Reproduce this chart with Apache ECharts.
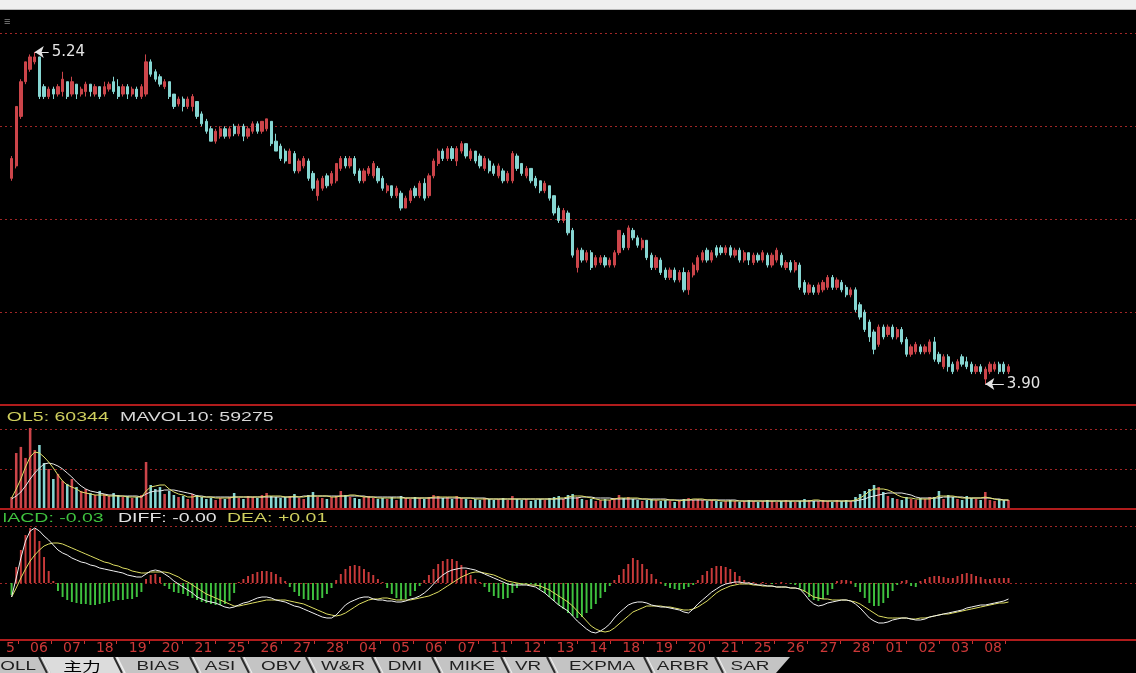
<!DOCTYPE html>
<html><head><meta charset="utf-8">
<script src="https://cdn.jsdelivr.net/npm/echarts@6/dist/echarts.min.js"></script>
<style>html,body{margin:0;padding:0;background:#000;overflow:hidden}#c{width:1136px;height:673px}</style>
</head><body><div id="c"></div>
<script>
// ---- tick labels ----
const dayLabels = ['5','06','07','18','19','20','21','25','26','27','28','04','05','06','07','11','12','13','14','18','19','20','21','25','26','27','28','01','02','03','08'];
const tabLabels = ['BOLL','主力','BIAS','ASI','OBV','W&R','DMI','MIKE','VR','EXPMA','ARBR','SAR'];
// ---- price bars [open, close, low, high] ----
const kline = [
[4.73,4.81,4.72,4.82],[4.78,5.02,4.77,5.02],[4.98,5.12,4.97,5.13],[5.12,5.20,5.11,5.20],[5.17,5.22,5.16,5.23],[5.20,5.22,5.19,5.24],
[5.22,5.06,5.05,5.22],[5.10,5.06,5.05,5.11],[5.06,5.09,5.05,5.10],[5.09,5.07,5.05,5.10],[5.07,5.10,5.06,5.11],[5.08,5.13,5.06,5.16],
[5.12,5.06,5.05,5.12],[5.07,5.12,5.06,5.14],[5.11,5.07,5.05,5.11],[5.07,5.09,5.06,5.10],[5.08,5.11,5.06,5.12],[5.11,5.08,5.06,5.11],
[5.07,5.10,5.06,5.11],[5.10,5.06,5.05,5.10],[5.07,5.10,5.06,5.12],[5.09,5.11,5.08,5.12],[5.12,5.08,5.07,5.14],[5.10,5.06,5.05,5.13],
[5.07,5.10,5.06,5.11],[5.10,5.07,5.05,5.11],[5.07,5.09,5.06,5.10],[5.09,5.06,5.05,5.10],[5.06,5.10,5.05,5.11],[5.07,5.20,5.06,5.23],
[5.20,5.15,5.14,5.21],[5.16,5.13,5.12,5.17],[5.14,5.11,5.10,5.15],[5.10,5.12,5.09,5.13],[5.12,5.06,5.05,5.12],[5.07,5.02,5.01,5.07],
[5.03,5.05,5.02,5.06],[5.05,5.02,5.00,5.06],[5.02,5.05,5.01,5.06],[5.02,5.06,5.00,5.07],[5.04,4.98,4.97,5.04],[4.99,4.95,4.94,5.00],
[4.96,4.92,4.91,4.97],[4.93,4.88,4.88,4.94],[4.88,4.92,4.87,4.93],[4.90,4.93,4.89,4.94],[4.93,4.90,4.89,4.94],[4.90,4.93,4.89,4.94],
[4.94,4.91,4.90,4.95],[4.91,4.94,4.90,4.95],[4.94,4.90,4.88,4.95],[4.90,4.93,4.89,4.94],[4.92,4.95,4.91,4.96],[4.95,4.92,4.91,4.96],
[4.92,4.96,4.91,4.96],[4.93,4.97,4.92,4.97],[4.96,4.87,4.86,4.96],[4.88,4.84,4.84,4.91],[4.86,4.81,4.80,4.87],[4.84,4.80,4.79,4.85],
[4.79,4.84,4.79,4.85],[4.83,4.76,4.75,4.84],[4.76,4.80,4.75,4.81],[4.78,4.81,4.77,4.82],[4.80,4.73,4.72,4.81],[4.75,4.69,4.68,4.76],
[4.66,4.72,4.64,4.73],[4.69,4.73,4.68,4.74],[4.74,4.70,4.69,4.75],[4.71,4.75,4.70,4.76],[4.72,4.79,4.71,4.79],[4.77,4.81,4.76,4.82],
[4.81,4.78,4.77,4.82],[4.78,4.81,4.77,4.82],[4.81,4.75,4.74,4.82],[4.76,4.72,4.71,4.77],[4.72,4.76,4.71,4.77],[4.75,4.77,4.74,4.78],
[4.74,4.79,4.73,4.80],[4.77,4.72,4.71,4.78],[4.73,4.69,4.68,4.74],[4.68,4.70,4.67,4.71],[4.70,4.66,4.65,4.70],[4.66,4.69,4.65,4.70],
[4.67,4.61,4.60,4.68],[4.61,4.65,4.61,4.66],[4.64,4.68,4.63,4.69],[4.69,4.66,4.65,4.70],[4.66,4.71,4.65,4.72],[4.71,4.65,4.64,4.73],
[4.66,4.74,4.65,4.75],[4.74,4.80,4.73,4.81],[4.79,4.84,4.78,4.85],[4.84,4.81,4.80,4.85],[4.81,4.85,4.80,4.86],[4.85,4.81,4.80,4.86],
[4.80,4.85,4.78,4.86],[4.84,4.87,4.83,4.88],[4.87,4.82,4.81,4.87],[4.81,4.84,4.80,4.85],[4.84,4.80,4.79,4.84],[4.82,4.78,4.77,4.83],
[4.77,4.81,4.76,4.82],[4.80,4.76,4.75,4.81],[4.78,4.75,4.74,4.79],[4.74,4.78,4.73,4.79],[4.76,4.72,4.71,4.77],[4.72,4.75,4.71,4.76],
[4.72,4.83,4.71,4.84],[4.82,4.77,4.76,4.83],[4.79,4.75,4.74,4.79],[4.74,4.77,4.73,4.78],[4.77,4.72,4.71,4.77],[4.73,4.70,4.69,4.74],
[4.72,4.68,4.67,4.72],[4.68,4.71,4.67,4.72],[4.70,4.65,4.64,4.70],[4.66,4.59,4.58,4.66],[4.61,4.56,4.55,4.62],[4.56,4.60,4.55,4.61],
[4.59,4.51,4.50,4.60],[4.52,4.42,4.41,4.53],[4.37,4.44,4.35,4.45],[4.44,4.40,4.39,4.45],[4.40,4.43,4.39,4.44],[4.43,4.37,4.36,4.44],
[4.38,4.41,4.37,4.42],[4.39,4.41,4.38,4.42],[4.41,4.38,4.37,4.42],[4.38,4.40,4.37,4.41],[4.38,4.43,4.37,4.44],[4.43,4.52,4.42,4.52],
[4.50,4.45,4.44,4.51],[4.45,4.53,4.44,4.54],[4.52,4.49,4.48,4.53],[4.49,4.46,4.45,4.50],[4.45,4.48,4.44,4.49],[4.48,4.41,4.40,4.48],
[4.42,4.37,4.36,4.43],[4.37,4.41,4.36,4.42],[4.40,4.35,4.34,4.41],[4.36,4.33,4.32,4.37],[4.33,4.36,4.32,4.37],[4.36,4.32,4.31,4.37],
[4.32,4.35,4.31,4.36],[4.35,4.28,4.27,4.37],[4.28,4.35,4.26,4.36],[4.34,4.38,4.33,4.39],[4.36,4.41,4.35,4.42],[4.40,4.43,4.39,4.44],
[4.44,4.40,4.39,4.45],[4.40,4.43,4.39,4.44],[4.45,4.42,4.41,4.46],[4.45,4.43,4.42,4.46],[4.43,4.45,4.42,4.46],[4.45,4.42,4.41,4.46],
[4.42,4.44,4.41,4.45],[4.44,4.40,4.39,4.45],[4.40,4.43,4.39,4.44],[4.43,4.40,4.38,4.43],[4.39,4.42,4.38,4.43],[4.42,4.40,4.39,4.43],
[4.40,4.43,4.39,4.44],[4.42,4.38,4.37,4.43],[4.38,4.42,4.37,4.43],[4.40,4.44,4.39,4.45],[4.42,4.38,4.37,4.43],[4.37,4.39,4.36,4.40],
[4.39,4.36,4.35,4.40],[4.36,4.39,4.35,4.40],[4.38,4.29,4.28,4.39],[4.31,4.27,4.26,4.32],[4.27,4.30,4.26,4.31],[4.29,4.27,4.26,4.30],
[4.27,4.30,4.26,4.31],[4.28,4.31,4.27,4.32],[4.29,4.33,4.28,4.34],[4.33,4.29,4.28,4.34],[4.29,4.32,4.28,4.33],[4.31,4.28,4.27,4.32],
[4.29,4.26,4.25,4.30],[4.26,4.28,4.25,4.29],[4.28,4.20,4.19,4.29],[4.22,4.17,4.16,4.23],[4.19,4.12,4.11,4.20],[4.15,4.09,4.07,4.16],
[4.11,4.04,4.02,4.12],[4.06,4.13,4.05,4.14],[4.13,4.09,4.08,4.14],[4.10,4.13,4.09,4.14],[4.13,4.09,4.08,4.14],[4.09,4.12,4.08,4.13],
[4.12,4.07,4.06,4.13],[4.08,4.02,4.01,4.09],[4.02,4.05,4.01,4.06],[4.03,4.06,4.02,4.07],[4.05,4.03,4.02,4.06],[4.03,4.05,4.02,4.06],
[4.03,4.07,4.02,4.08],[4.07,4.00,3.99,4.09],[4.02,3.99,3.98,4.03],[3.97,4.01,3.96,4.02],[4.01,3.97,3.95,4.02],[3.98,3.95,3.94,3.99],
[3.96,3.99,3.95,4.00],[4.01,3.98,3.97,4.02],[3.99,3.97,3.96,4.01],[3.98,3.95,3.94,3.99],[3.95,3.97,3.94,3.98],[3.97,3.95,3.94,3.98],
[3.92,3.96,3.90,3.97],[3.95,3.98,3.94,3.99],[3.96,3.98,3.95,3.99],[3.98,3.95,3.94,3.99],[3.98,3.95,3.94,3.99],[3.95,3.97,3.94,3.98]
];
// ---- volume (hundreds of lots) ----
const volume = [
806,3750,4160,3420,5430,3950,4290,3080,2680,2010, 2350,1880,1680,2010,1470,1210,1340,1070,940,1210,
1005,870,1070,940,806,872,737,806,938,3150, 1610,1340,1470,1005,1206,938,804,871,670,1005,
938,804,670,737, 603,737,670,804,1072,737,670,871,804,737,938,1072,871,804,737,804,
871,1005,737,670,938,1139,804,737,670,804, 871,1206,938,804,737,670,804,871,737,670,
737,670,804,603,871,737,670,804,737,670, 804,938,871,737,804,670,871,737,670,603,
670,603,737,670,603,670,737,603,871,670, 603,670,536,603,670,603,737,804,871,670,
938,1005,804,670,603,670,536,603,670,603, 737,938,737,804,670,603,536,603,670,603,
536,603,536,469,603,670,737,603,670,603, 536,603,536,469,536,603,536,469,536,603,
536,469,536,603,536,469,536,603,536,469, 536,670,603,536,536,603,536,469,603,536,
603,536,804,1005,1206,1340,1608,1474,1139,871, 737,670,603,804,670,603,737,670,804,804,
1206,670,938,804,670,603,871,737,670,603, 1139,603,536,670,603,603
];
const mavol5 = [
737,1340,2010,2814,3484,3819,3752,3484,3149,2747, 2278,1876,1608,1474,1340,1139,1072,1005,938,938,
938,871,871,871,871,804,804,804,804,1206, 1474,1541,1608,1608,1340,1139,1005,938,804,804,
871,804,804,804,737,737,737,737,804,804, 804,804,804,804,804,871,871,871,871,804,
804,871,804,804,871,871,871,871,871,804, 804,871,871,938,938,871,804,804,804,737,
737,737,737,737,737,737,737,737,737,737, 737,804,804,804,804,804,804,737,737,737,
670,670,670,670,670,670,670,670,670,670, 670,670,670,670,670,670,670,670,737,737,
804,871,871,871,804,737,670,603,603,603, 670,737,737,737,737,737,670,670,603,603,
603,603,603,603,536,603,603,670,670,670, 603,603,603,536,536,536,536,536,536,536,
536,536,536,536,536,536,536,536,536,536, 536,536,536,603,603,536,536,536,536,536,
536,536,603,737,938,1206,1340,1340,1340,1273, 1139,938,804,737,737,670,670,670,670,737,
871,871,871,871,804,737,737,737,737,737, 804,737,670,603,603,603.44
];
const mavol10 = [
670,871,1139,1541,2010,2412,2747,3015,3082,3015, 2881,2680,2412,2144,1809,1541,1340,1206,1139,1072,
1005,938,938,871,871,871,871,871,804,1005, 1139,1206,1206,1273,1273,1273,1206,1139,1072,1005,
871,871,804, 804,804,804,804,804,804,804,804,804,804,804,804,804,804,804,804,804,
804,804,804,871,871,871,871,871,871,871, 871,871,871,871,871,871,871,804,804,804,
804,804,804,804,804,737,737,737,737,737, 737,737,737,737,737,737,737,737,737,737,
737,737,737,670,670,670,670,670,670,670, 670,670,670,670,670,670,670,670,670,670,
737,737,737,804,804,804,737,737,737,737, 670,670,670,670,670,670,670,670,670,670,
670,670,603,603,603,603,603,603,603,603, 603,603,603,603,603,603,603,536,536,536,
536,536,536,536,536,536,536,536,536,536, 536,536,536,536,536,536,536,536,536,536,
536,536,536,603,670,804,871,938,1005,1072, 1072,1072,1072,1005,938,804,737,737,737,737,
737,804,804,804,804,804,737,737,737,737, 737,737,670,670,603,592.75
];
// ---- MACD ----
const macdHist = [
-.024,.032,.066,.096,.11,.108,.084,.052,.024,.004,
-.016,-.028,-.034,-.038,-.04,-.042,-.042,-.044,-.044,-.042,
-.04,-.038,-.036,-.034,-.034,-.032,-.032,-.028,-.018,
.008,.016,.018,.012,-.006,
-.012,-.018,-.02,-.022,-.026,-.03,-.034,-.038,-.04,-.042,-.044,-.044,-.042,-.036,-.02,
.002,.008,.014,.018,.022,.024,.024,.022,.018,.012,.004,
-.008,-.018,-.026,-.032,-.034,-.034,-.034,-.03,-.022,-.01,
.006,.018,.028,.034,.036,.034,.028,.022,.016,.008,.002,
-.01,-.022,-.03,-.034,-.032,-.026,-.016,-.006,
.006,.016,.028,.038,.044,.048,.048,.044,.036,.026,.016,.008,.002,
-.008,-.018,-.026,-.03,-.032,-.03,-.02,-.01,-.004,-.002,-.002,
-.006,-.012,-.02,-.028,-.036,-.044,-.052,-.06,-.066,-.07,-.068,-.06,-.052,-.042,-.03,-.018,-.006,
.006,.016,.028,.038,.05,.046,.038,.028,.018,.008,.002,
-.006,-.01,-.012,-.014,-.012,-.008,-.004,
.006,.016,.024,.03,.034,.034,.032,.028,.022,.014,.006,.002,
.002,0,.002,0,-.002,0,.002,0,-.002,-.004,
-.01,-.018,-.028,-.034,-.036,-.032,-.024,-.012,
.004,.006,.006,.004,
-.008,-.018,-.03,-.04,-.046,-.046,-.04,-.03,-.016,-.004,
.004,.006,-.006,-.008,
.004,.008,.012,.014,.014,.012,.01,.01,.014,.018,.02,.018,.014,.012,.008,.008,.01,.01,.01,.01
];
const diff = [
-.028,.01,.05,.084,.104,.11,.104,.094,.086,.076, .066,.06,.056,.05,.046,.042,.04,.036,.034,.03,
.028,.026,.024,.022,.02,.016,.014,.012,.012,.018, .024,.026,.024,.018,.012,.004,-.002,-.008,-.014,-.02,
-.028,-.032,-.036,-.038,-.04,-.044,-.048,-.05,-.048,-.044, -.04,-.038,-.034,-.03,-.028,-.028,-.03,-.034,-.036,-.038,
-.042,-.046,-.048,-.052,-.056,-.06,-.064,-.068,-.07,-.07, -.064,-.054,-.044,-.038,-.034,-.03,-.028,-.028,-.032,-.034,
-.034,-.036,-.036,-.038,-.038,-.036,-.032,-.03,-.026,-.02, -.012,-.002,.008,.016,.022,.026,.028,.03,.03,.028,
.026,.022,.018,.014,.01,.006,.002,-.002,-.004,-.004, -.004,-.004,-.006,-.008,-.014,-.02,-.028,-.036,-.044,-.05,
-.056,-.066,-.076,-.084,-.092,-.098,-.1,-.096,-.09,-.082, -.07,-.06,-.052,-.044,-.04,-.038,-.038,-.04,-.044,-.046,
-.048,-.048,-.05,-.052,-.054,-.058,-.06,-.052,-.042,-.034, -.026,-.018,-.012,-.006,-.002,0,.002,.002,0,0,
-.002,-.004,-.004,-.006,-.006,-.008,-.008,-.008,-.01,-.01, -.012,-.022,-.034,-.042,-.046,-.044,-.04,-.038,-.036,-.034,
-.034,-.036,-.042,-.05,-.06,-.07,-.076,-.08,-.08,-.078, -.074,-.072,-.07,-.07,-.072,-.074,-.074,-.072,-.068,-.066,
-.064,-.062,-.06,-.058,-.056,-.054,-.05,-.048,-.046,-.044, -.044,-.042,-.04,-.038,-.036,-.032
];
const dea = [
-.028,-.01,.01,.028,.044,.056,.066,.074,.078,.08, .08,.078,.074,.07,.066,.062,.058,.054,.05,.046,
.042,.04,.036,.034,.03,.028,.024,.022,.02,.02, .022,.022,.022,.022,.02,.016,.012,.006,.002,-.004,
-.01,-.016,-.022,-.026,-.03,-.034,-.038,-.042,-.046,-.046, -.044,-.042,-.04,-.038,-.036,-.034,-.034,-.034,-.034,-.034,
-.036,-.038,-.04,-.042,-.046,-.05,-.054,-.058,-.062,-.064, -.066,-.064,-.06,-.054,-.048,-.042,-.038,-.034,-.032,-.032,
-.03,-.03,-.032,-.034,-.034,-.034,-.034,-.032,-.03,-.028, -.026,-.022,-.018,-.012,-.006,0,.006,.012,.016,.02,
.022,.022,.02,.018,.016,.012,.008,.004,.002,0, -.002,-.002,-.004,-.004,-.006,-.01,-.014,-.02,-.026,-.032,
-.038,-.046,-.056,-.066,-.076,-.086,-.092,-.096,-.098,-.096, -.09,-.082,-.074,-.066,-.058,-.054,-.05,-.046,-.046,-.046,
-.046,-.048,-.048,-.05,-.052,-.054,-.054,-.052,-.048,-.042, -.036,-.028,-.02,-.014,-.01,-.006,-.004,-.002,-.002,-.002,
-.004,-.004,-.006,-.006,-.006,-.008,-.008,-.008,-.01,-.01, -.012,-.016,-.022,-.028,-.03,-.032,-.032,-.034,-.034,-.034,
-.034,-.036,-.038,-.042,-.048,-.054,-.06,-.066,-.068,-.07, -.07,-.07,-.07,-.07,-.072,-.072,-.07,-.07,-.068,-.066,
-.064,-.062,-.062,-.06,-.058,-.056,-.054,-.052,-.05,-.048, -.046,-.044,-.042,-.04,-.04,-.038
];

// ---- styling & layout ----
const UP = '#cc454a', DOWN = '#86d6d2', RED = '#b01c1c', DOT = '#a02626';
const HIST_UP = '#c93a3a', HIST_DN = '#3fc23f';
const LEAD = 2, SLOTS = 245;
const categories = Array.from({length: SLOTS}, (_, i) => 'b' + i);
const xi = k => k + LEAD;

const candleData = kline.map((d, k) => [xi(k), d[0], d[1], d[2], d[3]]);
const volData = volume.map((v, k) => ({value: [xi(k), v], itemStyle: {color: kline[k][1] >= kline[k][0] ? UP : DOWN}}));
const histData = macdHist.map((v, k) => ({value: [xi(k), v], itemStyle: {color: v >= 0 ? HIST_UP : HIST_DN}}));
const lineData = arr => arr.map((v, k) => [xi(k), v]);

let hiIdx = 0, loIdx = 0;
kline.forEach((d, k) => { if (d[3] > kline[hiIdx][3]) hiIdx = k; if (d[2] < kline[loIdx][2]) loIdx = k; });
const hi = kline[hiIdx][3], lo = kline[loIdx][2];

const catAxis = (g, lineShow) => ({
  type: 'category', gridIndex: g, data: categories, boundaryGap: true,
  axisLine: {show: lineShow, onZero: false, lineStyle: {color: RED, width: 2}},
  axisTick: {show: false}, axisLabel: {show: false}, splitLine: {show: false}, z: 3
});
const valAxis = (g, min, max, interval) => ({
  type: 'value', gridIndex: g, min, max, interval, scale: false,
  axisLine: {show: false}, axisTick: {show: false}, axisLabel: {show: false},
  splitLine: {show: true, showMinLine: false, showMaxLine: false, lineStyle: {color: DOT, type: [2, 3], width: 1}}
});

const TXT = (text, x, y, fill) => ({
  type: 'text', x, y, scaleX: 1.5, z: 100,
  style: {text, fill, fontSize: 13, fontFamily: '"Liberation Sans", Arial, sans-serif', verticalAlign: 'middle', align: 'left'}
});

// tab bar geometry (layout only)
const tabSeps = [43, 118, 194, 245, 310, 376, 436, 505, 551, 648, 719];
const tabCenters = [36, 82, 158, 220, 281, 343, 405, 472, 528, 602, 683, 750];
const graphics = [
  {type: 'rect', z: 100, shape: {x: 0, y: 0, width: 1136, height: 10}, style: {fill: '#efefef'}},
  {type: 'line', z: 100, shape: {x1: 0, y1: 9.5, x2: 1136, y2: 9.5}, style: {stroke: '#b8b8b8', lineWidth: 1}},
  {type: 'text', x: 4, y: 22, z: 100, style: {text: '≡', fill: '#8a8a8a', fontSize: 11, verticalAlign: 'middle'}},
  TXT('MAVOL5: 60344', -34, 417, '#cfcf5e'),
  TXT('MAVOL10: 59275', 120, 417, '#d8d8d8'),
  TXT('MACD: -0.03', -9, 518, '#3fc23f'),
  TXT('DIFF: -0.00', 118, 518, '#e2e2e2'),
  TXT('DEA: +0.01', 227, 518, '#cfcf5e'),
  // mask for the cut-off left edge of the indicator captions
  {type: 'rect', z: 101, shape: {x: 0, y: 409, width: 7, height: 16}, style: {fill: '#000'}},
  {type: 'rect', z: 101, shape: {x: 0, y: 511, width: 4, height: 15}, style: {fill: '#000'}},
  {type: 'polygon', z: 100, shape: {points: [[0, 657], [790, 657], [776, 673], [0, 673]]}, style: {fill: '#c4c4c4'}},
  {type: 'polygon', z: 100, shape: {points: [[43, 657], [118, 657], [126, 673], [51, 673]]}, style: {fill: '#dcdcdc'}}
];
tabSeps.forEach(sx => {
  graphics.push({type: 'line', z: 101, shape: {x1: sx - 4, y1: 657, x2: sx + 4, y2: 673}, style: {stroke: '#2a2a2a', lineWidth: 2}});
  graphics.push({type: 'line', z: 101, shape: {x1: sx - 1, y1: 657, x2: sx + 7, y2: 673}, style: {stroke: '#f4f4f4', lineWidth: 1}});
});
tabLabels.forEach((t, i) => {
  graphics.push({
    type: 'text', x: tabCenters[i], y: 666, scaleX: 1.45, z: 102,
    style: {text: t, fill: i === 1 ? '#000' : '#1e1e1e', fontSize: 13,
      fontFamily: i === 1 ? '"Noto Sans CJK SC", sans-serif' : '"Liberation Sans", Arial, sans-serif',
      align: i === 0 ? 'right' : 'center', verticalAlign: 'middle'}
  });
});

const chart = echarts.init(document.getElementById('c'), null, {renderer: 'canvas'});
chart.setOption({
  backgroundColor: '#000',
  animation: false,
  grid: [
    {left: 0, width: 1136, top: 10, height: 395},
    {left: 0, width: 1136, top: 405, height: 104},
    {left: 0, width: 1136, top: 510, height: 130},
    {left: 18, width: 987, top: 639, height: 1}
  ],
  xAxis: [
    catAxis(0, true), catAxis(1, true), catAxis(2, true),
    {type: 'value', gridIndex: 3, min: 0, max: 30, interval: 1,
      axisLine: {show: false, onZero: false},
      axisTick: {show: true, length: 4, lineStyle: {color: '#c83232'}},
      axisLabel: {show: true, formatter: v => (dayLabels[v] !== undefined ? dayLabels[v] : ''),
        color: '#cc3838', fontFamily: '"DejaVu Sans", sans-serif', fontSize: 14,
        align: 'right', margin: 1, padding: [0, 3, 0, 0], showMinLabel: true, showMaxLabel: true, hideOverlap: false},
      splitLine: {show: false}}
  ],
  yAxis: [
    valAxis(0, 3.8153, 5.4093, 0.3753),
    valAxis(1, 0, 6968, 2680),
    valAxis(2, -0.114, 0.146, 0.114),
    {type: 'value', gridIndex: 3, show: false, splitLine: {show: false}}
  ],
  graphic: graphics,
  series: [
    {
      type: 'candlestick', xAxisIndex: 0, yAxisIndex: 0, data: candleData,
      encode: {x: 0, y: [1, 2, 3, 4]}, barWidth: '60%',
      itemStyle: {color: UP, color0: DOWN, borderColor: UP, borderColor0: DOWN, borderWidth: 1},
      markLine: {
        silent: true, symbol: ['arrow', 'none'], symbolSize: 9,
        lineStyle: {color: '#e4e4e4', width: 1, type: 'solid'},
        label: {show: true, position: 'end', formatter: '{b}', color: '#e4e4e4', fontSize: 15,
          fontFamily: '"DejaVu Sans", sans-serif', distance: 3},
        emphasis: {disabled: true},
        data: [
          [{name: hi.toFixed(2), coord: [xi(hiIdx), hi]}, {coord: [xi(hiIdx) + 3, hi]}],
          [{name: lo.toFixed(2), coord: [xi(loIdx), lo]}, {coord: [xi(loIdx) + 4, lo]}]
        ]
      }
    },
    {type: 'bar', xAxisIndex: 1, yAxisIndex: 1, data: volData, encode: {x: 0, y: 1}, barWidth: '55%'},
    {type: 'line', xAxisIndex: 1, yAxisIndex: 1, data: lineData(mavol10), showSymbol: false, symbol: 'none',
      lineStyle: {color: '#e8e8e8', width: 1}, z: 5},
    {type: 'line', xAxisIndex: 1, yAxisIndex: 1, data: lineData(mavol5), showSymbol: false, symbol: 'none',
      lineStyle: {color: '#e0e06a', width: 1}, z: 6},
    {type: 'bar', xAxisIndex: 2, yAxisIndex: 2, data: histData, encode: {x: 0, y: 1}, barWidth: '42%'},
    {type: 'line', xAxisIndex: 2, yAxisIndex: 2, data: lineData(dea), showSymbol: false, symbol: 'none',
      lineStyle: {color: '#dede62', width: 1}, z: 5},
    {type: 'line', xAxisIndex: 2, yAxisIndex: 2, data: lineData(diff), showSymbol: false, symbol: 'none',
      lineStyle: {color: '#f0f0f0', width: 1}, z: 6}
  ]
});
</script>
</body></html>
